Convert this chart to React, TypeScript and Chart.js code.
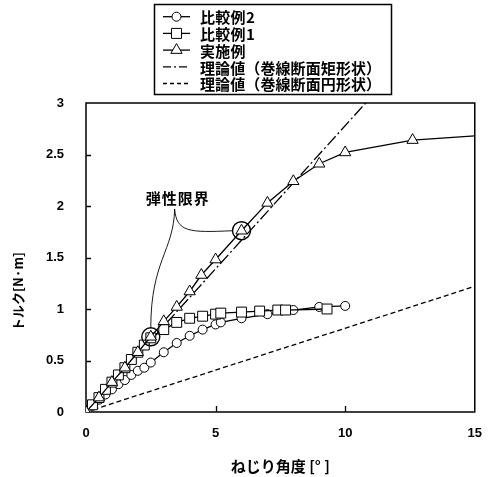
import React, { useEffect, useRef } from "react";
import { Chart, registerables } from "chart.js";

Chart.register(...registerables);

// Axis ranges and tick values
const X_MIN = 0;
const X_MAX = 15;
const Y_MIN = 0;
const Y_MAX = 3;
const X_STEP = 5;
const Y_STEP = 0.5;

// 比較例2 (circles)
const comp2X = [0, 0.25, 0.5, 0.75, 1.0, 1.25, 1.5, 1.75, 2.0, 2.25, 2.5, 3.0, 3.5, 4.0, 4.5, 5.0, 5.2, 6.0, 7.0, 8.0, 9.0, 10.0];
const comp2Y = [0, 0.06, 0.12, 0.17, 0.22, 0.27, 0.31, 0.36, 0.4, 0.43, 0.48, 0.58, 0.67, 0.74, 0.8, 0.85, 0.87, 0.91, 0.95, 0.99, 1.02, 1.03];

// 比較例1 (squares)
const comp1X = [0, 0.25, 0.5, 0.75, 1.0, 1.25, 1.5, 1.75, 2.0, 2.25, 2.5, 3.0, 3.5, 4.0, 4.5, 5.0, 5.2, 6.0, 6.7, 7.4, 7.7, 9.3];
const comp1Y = [0, 0.07, 0.14, 0.22, 0.29, 0.36, 0.43, 0.51, 0.58, 0.65, 0.72, 0.8, 0.87, 0.91, 0.93, 0.95, 0.96, 0.97, 0.98, 0.99, 0.99, 1.0];

// 実施例 (triangles)
const exampleX = [0, 0.5, 1.0, 1.5, 2.0, 2.5, 3.0, 3.5, 4.0, 4.45, 5.0, 6.0, 7.0, 8.0, 9.0, 10.0, 12.6, 15.0];
const exampleY = [0, 0.14, 0.29, 0.43, 0.58, 0.73, 0.88, 1.02, 1.17, 1.33, 1.48, 1.76, 2.03, 2.24, 2.41, 2.52, 2.64, 2.68];

// Theoretical lines
const rectTheoryX = [0, 15];
const rectTheoryY = [0, 4.17];
const roundTheoryX = [0, 15];
const roundTheoryY = [0, 1.22];

// Elastic-limit points on the 実施例 curve
const elasticX = [2.5, 6.0];
const elasticY = [0.73, 1.76];
const elasticLabel = "弾性限界";

const legendLabels = [
  "比較例2",
  "比較例1",
  "実施例",
  "理論値（巻線断面矩形状）",
  "理論値（巻線断面円形状）",
];

const xTitle = "ねじり角度 [° ]";
const yTitle = "トルク[N·m]";

const zip = (xs: number[], ys: number[]) => xs.map((x, i) => ({ x, y: ys[i] }));

const JP_FONT = '"Noto Sans CJK JP", "Noto Sans", sans-serif';
const NUM_FONT = '"Liberation Sans", Arial, sans-serif';

const DASH_DOT = [12, 3, 2, 3];
const DASHED = [5, 3];

type Marker = "circle" | "rect" | "triangle" | null;

function drawMarker(ctx: CanvasRenderingContext2D, style: Marker, x: number, y: number) {
  if (!style) return;
  ctx.save();
  ctx.setLineDash([]);
  ctx.fillStyle = "#fff";
  ctx.strokeStyle = "#000";
  ctx.lineWidth = 1;
  ctx.beginPath();
  if (style === "circle") {
    ctx.arc(x, y, 4.5, 0, Math.PI * 2);
  } else if (style === "rect") {
    ctx.rect(x - 5, y - 5, 10, 10);
  } else {
    const r = 6.5;
    ctx.moveTo(x, y - r);
    ctx.lineTo(x + r * Math.sin(Math.PI / 3), y + r / 2);
    ctx.lineTo(x - r * Math.sin(Math.PI / 3), y + r / 2);
    ctx.closePath();
  }
  ctx.fill();
  ctx.stroke();
  ctx.restore();
}

const legendStyles: { marker: Marker; dash: number[] }[] = [
  { marker: "circle", dash: [] },
  { marker: "rect", dash: [] },
  { marker: "triangle", dash: [] },
  { marker: null, dash: [8, 3, 2, 3] },
  { marker: null, dash: [4, 3] },
];

// Frame, inward tick marks, axis titles, annotation and legend
const decorPlugin = {
  id: "decor",
  beforeDatasetsDraw(chart: any) {
    const { ctx, chartArea: a, scales } = chart;
    ctx.save();
    ctx.strokeStyle = "#000";
    ctx.lineWidth = 1.5;
    ctx.strokeRect(a.left, a.top, a.right - a.left, a.bottom - a.top);
    ctx.lineWidth = 1.3;
    ctx.beginPath();
    for (let v = Y_MIN + Y_STEP; v < Y_MAX; v += Y_STEP) {
      const py = Math.round(scales.y.getPixelForValue(v)) + 0.5;
      ctx.moveTo(a.left, py);
      ctx.lineTo(a.left + 5, py);
    }
    for (let v = X_MIN + X_STEP; v < X_MAX; v += X_STEP) {
      const px = Math.round(scales.x.getPixelForValue(v)) + 0.5;
      ctx.moveTo(px, a.bottom);
      ctx.lineTo(px, a.bottom - 6);
    }
    ctx.stroke();
    ctx.restore();
  },
  afterDraw(chart: any) {
    const { ctx, chartArea: a, scales } = chart;
    const sx = (v: number) => scales.x.getPixelForValue(v);
    const sy = (v: number) => scales.y.getPixelForValue(v);
    ctx.save();
    ctx.fillStyle = "#000";

    // Axis titles
    ctx.font = `bold 15px ${JP_FONT}`;
    ctx.textAlign = "center";
    ctx.textBaseline = "middle";
    ctx.fillText(xTitle, (a.left + a.right) / 2, 466);
    ctx.save();
    ctx.translate(18, (a.top + a.bottom) / 2 + 34);
    ctx.rotate(-Math.PI / 2);
    ctx.font = `bold 13px ${JP_FONT}`;
    ctx.fillText(yTitle, 0, 0);
    ctx.restore();

    // 弾性限界 label with leader curves to the two marked points
    const lx = sx(3.42);
    const ly = sy(1.97);
    ctx.font = `bold 15px ${JP_FONT}`;
    (ctx as any).letterSpacing = "1px";
    ctx.fillText(elasticLabel, lx + 3, ly - 11);
    (ctx as any).letterSpacing = "0px";
    ctx.strokeStyle = "#000";
    ctx.lineWidth = 0.9;
    const p1x = sx(elasticX[0]);
    const p1y = sy(elasticY[0]) - 9;
    const p2x = sx(elasticX[1]) - 9;
    const p2y = sy(elasticY[1]);
    ctx.beginPath();
    ctx.moveTo(lx, ly);
    ctx.bezierCurveTo(lx - 1, ly + 42, p1x, ly + 52, p1x, p1y);
    ctx.moveTo(lx, ly);
    ctx.bezierCurveTo(lx + 2, ly + 23, lx + 14, p2y + 2, p2x, p2y);
    ctx.stroke();

    // Legend
    const bx = 154.5;
    const by = 4.5;
    const bw = 237;
    const bh = 90;
    ctx.fillStyle = "#fff";
    ctx.fillRect(bx, by, bw, bh);
    ctx.lineWidth = 1.5;
    ctx.strokeRect(bx, by, bw, bh);
    ctx.font = `bold 15px ${JP_FONT}`;
    ctx.textAlign = "left";
    legendLabels.forEach((label, i) => {
      const yy = 16.7 + i * 16.7;
      const st = legendStyles[i];
      ctx.strokeStyle = "#000";
      ctx.lineWidth = 1.3;
      ctx.setLineDash(st.dash);
      ctx.beginPath();
      ctx.moveTo(163, yy);
      ctx.lineTo(190, yy);
      ctx.stroke();
      ctx.setLineDash([]);
      drawMarker(ctx, st.marker, 176.5, yy);
      ctx.fillStyle = "#000";
      (ctx as any).letterSpacing = i >= 3 ? "0.1px" : "0.3px";
      ctx.fillText(label, 200, yy + 1);
      (ctx as any).letterSpacing = "0px";
    });
    ctx.restore();
  },
};

export default function App() {
  const canvasRef = useRef<HTMLCanvasElement | null>(null);

  useEffect(() => {
    if (!canvasRef.current) return;
    const lineBase = {
      showLine: true,
      borderColor: "#000",
      borderWidth: 1.3,
      pointBackgroundColor: "#fff",
      pointBorderColor: "#000",
      pointBorderWidth: 1,
      tension: 0,
    };
    const chart = new Chart(canvasRef.current, {
      type: "scatter",
      data: {
        datasets: [
          {
            ...lineBase,
            label: legendLabels[4],
            data: zip(roundTheoryX, roundTheoryY),
            pointRadius: 0,
            borderDash: DASHED,
            order: 5,
          },
          {
            ...lineBase,
            label: legendLabels[3],
            data: zip(rectTheoryX, rectTheoryY),
            pointRadius: 0,
            borderDash: DASH_DOT,
            order: 4,
          },
          {
            ...lineBase,
            label: legendLabels[0],
            data: zip(comp2X, comp2Y),
            pointStyle: "circle",
            pointRadius: 4.5,
            order: 3,
          },
          {
            ...lineBase,
            label: legendLabels[1],
            data: zip(comp1X, comp1Y),
            pointStyle: "rect",
            pointRadius: 7,
            order: 2,
          },
          {
            ...lineBase,
            label: legendLabels[2],
            data: zip(exampleX, exampleY),
            pointStyle: "triangle",
            pointRadius: (c: any) => (c.raw && c.raw.x >= X_MAX ? 0 : 6.5),
            order: 1,
          },
          {
            label: elasticLabel,
            data: zip(elasticX, elasticY),
            showLine: false,
            pointStyle: "circle",
            pointRadius: 9,
            pointBorderWidth: 1.4,
            pointBorderColor: "#000",
            pointBackgroundColor: "rgba(0,0,0,0)",
            order: 0,
          },
        ],
      },
      options: {
        animation: false,
        responsive: true,
        maintainAspectRatio: false,
        events: [],
        layout: { padding: { top: 103, right: 9, left: 0, bottom: 0 } },
        plugins: {
          legend: { display: false },
          tooltip: { enabled: false },
          title: { display: false },
        },
        scales: {
          x: {
            type: "linear",
            min: X_MIN,
            max: X_MAX,
            grid: { display: false },
            border: { display: false },
            ticks: {
              stepSize: X_STEP,
              color: "#000",
              padding: 6,
              maxRotation: 0,
              callback: (v: any) => String(v),
              font: { family: NUM_FONT, size: 13, weight: "bold" },
            },
            afterFit: (s: any) => {
              s.height = 65;
            },
          },
          y: {
            type: "linear",
            min: Y_MIN,
            max: Y_MAX,
            grid: { display: false },
            border: { display: false },
            ticks: {
              stepSize: Y_STEP,
              color: "#000",
              padding: 14,
              callback: (v: any) => String(v),
              font: { family: NUM_FONT, size: 13, weight: "bold" },
            },
            afterFit: (s: any) => {
              s.width = 86;
            },
          },
        },
      },
      plugins: [decorPlugin],
    } as any);
    return () => chart.destroy();
  }, []);

  return (
    <div style={{ position: "absolute", left: 0, top: 0, width: 488, height: 477, background: "#fff" }}>
      <canvas ref={canvasRef} />
    </div>
  );
}
